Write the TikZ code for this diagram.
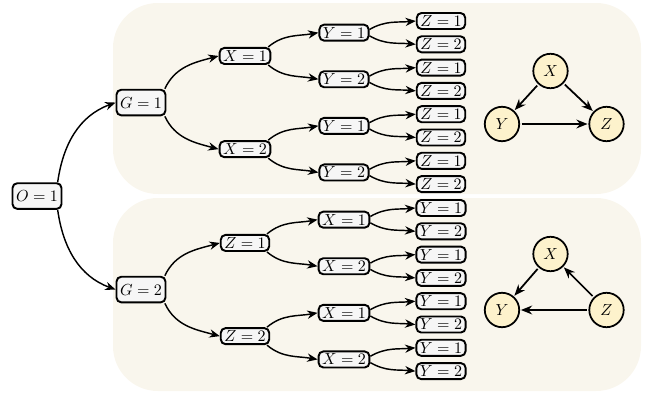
\documentclass[tikz,border=0pt]{standalone}
\usetikzlibrary{arrows.meta}
\definecolor{panelbg}{RGB}{249,246,237}
\definecolor{boxbg}{RGB}{246,246,246}
\definecolor{dagbg}{RGB}{253,242,204}
\begin{document}
\begin{tikzpicture}[x=0.625pt,y=-0.625pt,
  box/.style={draw,line width=1.2pt,rounded corners=3pt,fill=boxbg,inner xsep=2.2pt,inner ysep=1.6pt},
  bigbox/.style={box,inner ysep=4.6pt},
  arr/.style={-{Stealth[length=6.5pt,width=5.2pt]},line width=0.9pt},
  dag/.style={circle,draw,line width=1.1pt,fill=dagbg,minimum size=21.5pt,inner sep=0pt},
  darr/.style={-{Stealth[length=7pt,width=5.5pt]},line width=1.1pt,shorten <=1pt,shorten >=0.5pt}]
\useasboundingbox (0,0) rectangle (649,394);
\fill[panelbg,rounded corners=28pt] (113,3) rectangle (641,194);
\fill[panelbg,rounded corners=28pt] (113,198) rectangle (641,391);
\node[bigbox] (root) at (37,196.05) {$O=1$};
\foreach \p/\off/\A/\B/\C in {1/0/X/Y/Z, 2/187/Z/X/Y} {
  \node[bigbox] (g\p) at (141,102.55+\off) {$G=\p$};
  \ifnum\p=1
    \draw[arr] ([xshift=-3pt]root.north east) to[out=82,in=200] (g\p.west);
  \else
    \draw[arr] ([xshift=-3pt]root.south east) to[out=-82,in=160] (g\p.west);
  \fi
  \foreach \k in {0,1} {
    \pgfmathtruncatemacro\kk{\k+1}
    \node[box] (a\p\k) at (245,55.95+93.2*\k+\off) {$\A=\kk$};
    \ifnum\k=0
      \draw[arr] ([xshift=-1pt]g\p.north east) to[out=65,in=195] (a\p\k.west);
    \else
      \draw[arr] ([xshift=-1pt]g\p.south east) to[out=-65,in=165] (a\p\k.west);
    \fi
    \foreach \m in {0,1} {
      \pgfmathtruncatemacro\mm{\m+1}
      \node[box] (b\p\k\m) at (344,32.65+93.2*\k+46.6*\m+\off) {$\B=\mm$};
      \ifnum\m=0
        \draw[arr] ([xshift=-2pt]a\p\k.north east) to[out=40,in=190] (b\p\k\m.west);
      \else
        \draw[arr] ([xshift=-2pt]a\p\k.south east) to[out=-40,in=170] (b\p\k\m.west);
      \fi
      \foreach \n in {0,1} {
        \pgfmathtruncatemacro\nn{\n+1}
        \node[box] (c\p\k\m\n) at (441,21+93.2*\k+46.6*\m+23.3*\n+\off) {$\C=\nn$};
        \ifnum\n=0
          \draw[arr] ([yshift=2pt]b\p\k\m.east) to[out=30,in=185] (c\p\k\m\n.west);
        \else
          \draw[arr] ([yshift=-2pt]b\p\k\m.east) to[out=-30,in=175] (c\p\k\m\n.west);
        \fi
      }
    }
  }
}
% top DAG
\node[dag] (tx) at (550.5,71) {$X$};
\node[dag] (ty) at (502,124) {$Y$};
\node[dag] (tz) at (606.5,124) {$Z$};
\draw[darr] (tx) -- (ty);
\draw[darr] (tx) -- (tz);
\draw[darr] (ty) -- (tz);
% bottom DAG
\node[dag] (bx) at (550.5,254) {$X$};
\node[dag] (by) at (502,310) {$Y$};
\node[dag] (bz) at (606.5,310) {$Z$};
\draw[darr] (bx) -- (by);
\draw[darr] (bz) -- (bx);
\draw[darr] (bz) -- (by);
\end{tikzpicture}
\end{document}
